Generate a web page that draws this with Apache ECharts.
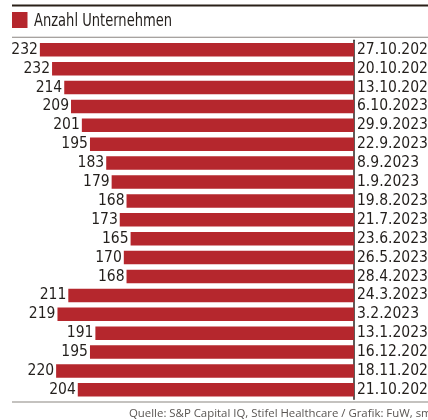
<!DOCTYPE html>
<html>
<head>
<meta charset="utf-8">
<script src="https://cdn.jsdelivr.net/npm/echarts@6/dist/echarts.min.js"></script>
<style>
html,body{margin:0;padding:0;background:#fff;}
#c{width:428px;height:420px;}
</style>
</head>
<body>
<div id="c"></div>
<script>
var categories = ["27.10.2023","20.10.2023","13.10.2023","6.10.2023","29.9.2023","22.9.2023","8.9.2023","1.9.2023","19.8.2023","21.7.2023","23.6.2023","26.5.2023","28.4.2023","24.3.2023","3.2.2023","13.1.2023","16.12.2022","18.11.2022","21.10.2022"];
var labelValues = [232,232,214,209,201,195,183,179,168,173,165,170,168,211,219,191,195,220,204];
var barValues = [232,223,214,209,201,195,183,179,168,173,165,170,168,211,219,191,195,220,204];
var legendName = "Anzahl Unternehmen";
var sourceText = "Quelle: S&P Capital IQ, Stifel Healthcare / Grafik: FuW, sm";

var narrow = '"DejaVu Sans Condensed","Liberation Sans",sans-serif';
var chart = echarts.init(document.getElementById('c'), null, {renderer:'canvas'});
chart.setOption({
  animation:false,
  backgroundColor:'#fff',
  grid:{left:15.5, right:74, top:40.3, height:359, containLabel:false, outerBoundsMode:'none'},
  xAxis:{type:'value', inverse:true, min:0, max:250, show:false},
  yAxis:{type:'category', inverse:true, position:'right', data:categories,
    axisLine:{show:true, lineStyle:{color:'#2b2520', width:1.5}},
    axisTick:{show:false},
    axisLabel:{interval:0, margin:3, color:'#231f1c', fontFamily:narrow, fontSize:15.5, align:'left'}
  },
  series:[{
    type:'bar', name:legendName, data:barValues, barWidth:13.5,
    itemStyle:{color:'#b5272d'},
    label:{show:true, position:'left', distance:2, color:'#231f1c', fontFamily:narrow, fontSize:15.5,
      formatter:function(p){return String(labelValues[p.dataIndex]);}}
  }],
  graphic:[
    {type:'rect', shape:{x:12, y:4.5, width:416, height:2}, style:{fill:'#2a2018'}},
    {type:'rect', shape:{x:12, y:12, width:15.5, height:16}, style:{fill:'#b5272d'}},
    {type:'text', x:34, y:22, scaleX:0.855, style:{text:legendName, fill:'#231f1c', font:'17px '+narrow, verticalAlign:'middle'}},
    {type:'rect', shape:{x:12, y:36.8, width:416, height:1}, style:{fill:'#8a8580'}},
    {type:'rect', shape:{x:12, y:401.5, width:416, height:1}, style:{fill:'#8a8580'}},
    {type:'text', x:129, y:413.5, style:{text:sourceText, fill:'#5a5653', font:'11.4px "Open Sans",sans-serif', verticalAlign:'middle'}}
  ]
});
</script>
</body>
</html>
